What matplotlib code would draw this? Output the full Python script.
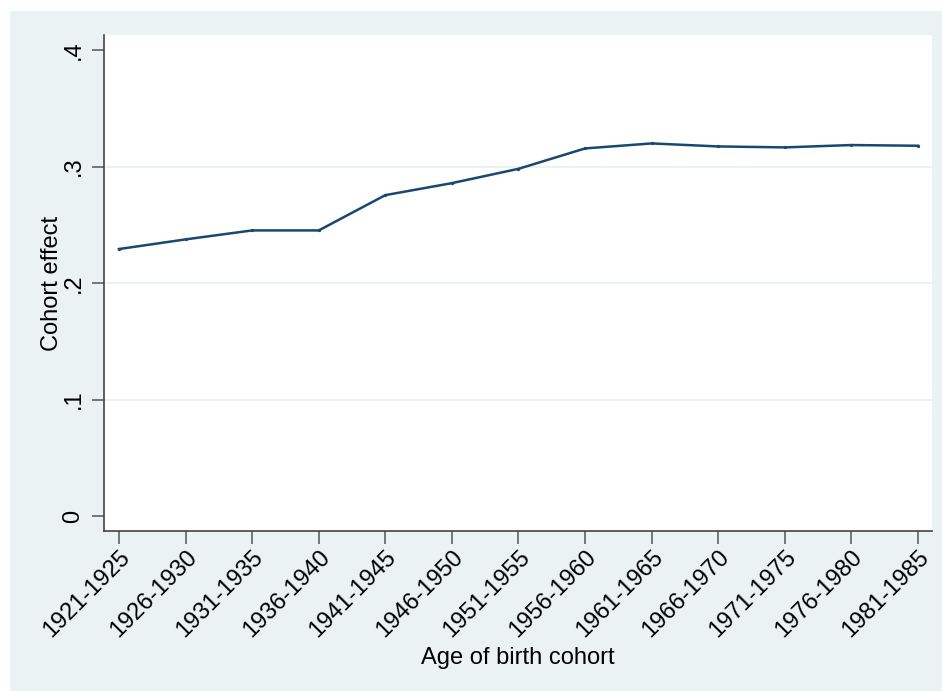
import matplotlib
matplotlib.use("Agg")
import matplotlib.pyplot as plt
from matplotlib.patches import Rectangle

cohorts = ["1921-1925", "1926-1930", "1931-1935", "1936-1940", "1941-1945",
           "1946-1950", "1951-1955", "1956-1960", "1961-1965", "1966-1970",
           "1971-1975", "1976-1980", "1981-1985"]
effect = [0.2292, 0.2375, 0.2452, 0.2452, 0.2755, 0.2858, 0.2981,
          0.3156, 0.3199, 0.3173, 0.3165, 0.3185, 0.3179]
yticks = [0, 0.1, 0.2, 0.3, 0.4]
ylabels = ["0", ".1", ".2", ".3", ".4"]

plt.rcParams['font.family'] = ['Liberation Sans', 'DejaVu Sans']

W, H = 942, 691
fig = plt.figure(figsize=(W / 100, H / 100), dpi=100, facecolor='white')
bg = Rectangle((10 / W, 0), 1 - 10 / W, 1 - 11 / H, transform=fig.transFigure,
               facecolor='#EAF2F3', edgecolor='none', zorder=-10)
fig.patches.append(bg)

ax = fig.add_axes([104 / W, 1 - 531 / H, 828 / W, 496 / H])
ax.set_facecolor('white')

x = list(range(len(cohorts)))
ax.plot(x, effect, color='#1A476F', lw=1.8, marker='o', markersize=2.4,
        markeredgewidth=0, zorder=3)

for v in [0.1, 0.2, 0.3]:
    ax.axhline(v, color='#EAF2F3', lw=1.4, zorder=1)

ax.set_xlim(-0.225, len(cohorts) - 1 + 0.21)
ax.set_ylim(-0.0129, 0.413)

ax.set_yticks(yticks)
ax.set_yticklabels(ylabels, rotation=90, va='center', fontsize=17)
ax.set_xticks(x)
ax.set_xticklabels(cohorts, rotation=45, ha='right', rotation_mode='anchor',
                   fontsize=17)

for s in ['top', 'right']:
    ax.spines[s].set_visible(False)
for s in ['left', 'bottom']:
    ax.spines[s].set_color('#444444')
    ax.spines[s].set_linewidth(1.2)

ax.tick_params(axis='both', length=9, width=1.1, color='#555555', labelcolor='black')
ax.tick_params(axis='y', pad=5)
ax.tick_params(axis='x', pad=2)

ax.set_ylabel("Cohort effect", fontsize=17, labelpad=0)
ax.set_xlabel("Age of birth cohort", fontsize=17, labelpad=4)

fig.savefig("out.png", dpi=100, facecolor=fig.get_facecolor())
